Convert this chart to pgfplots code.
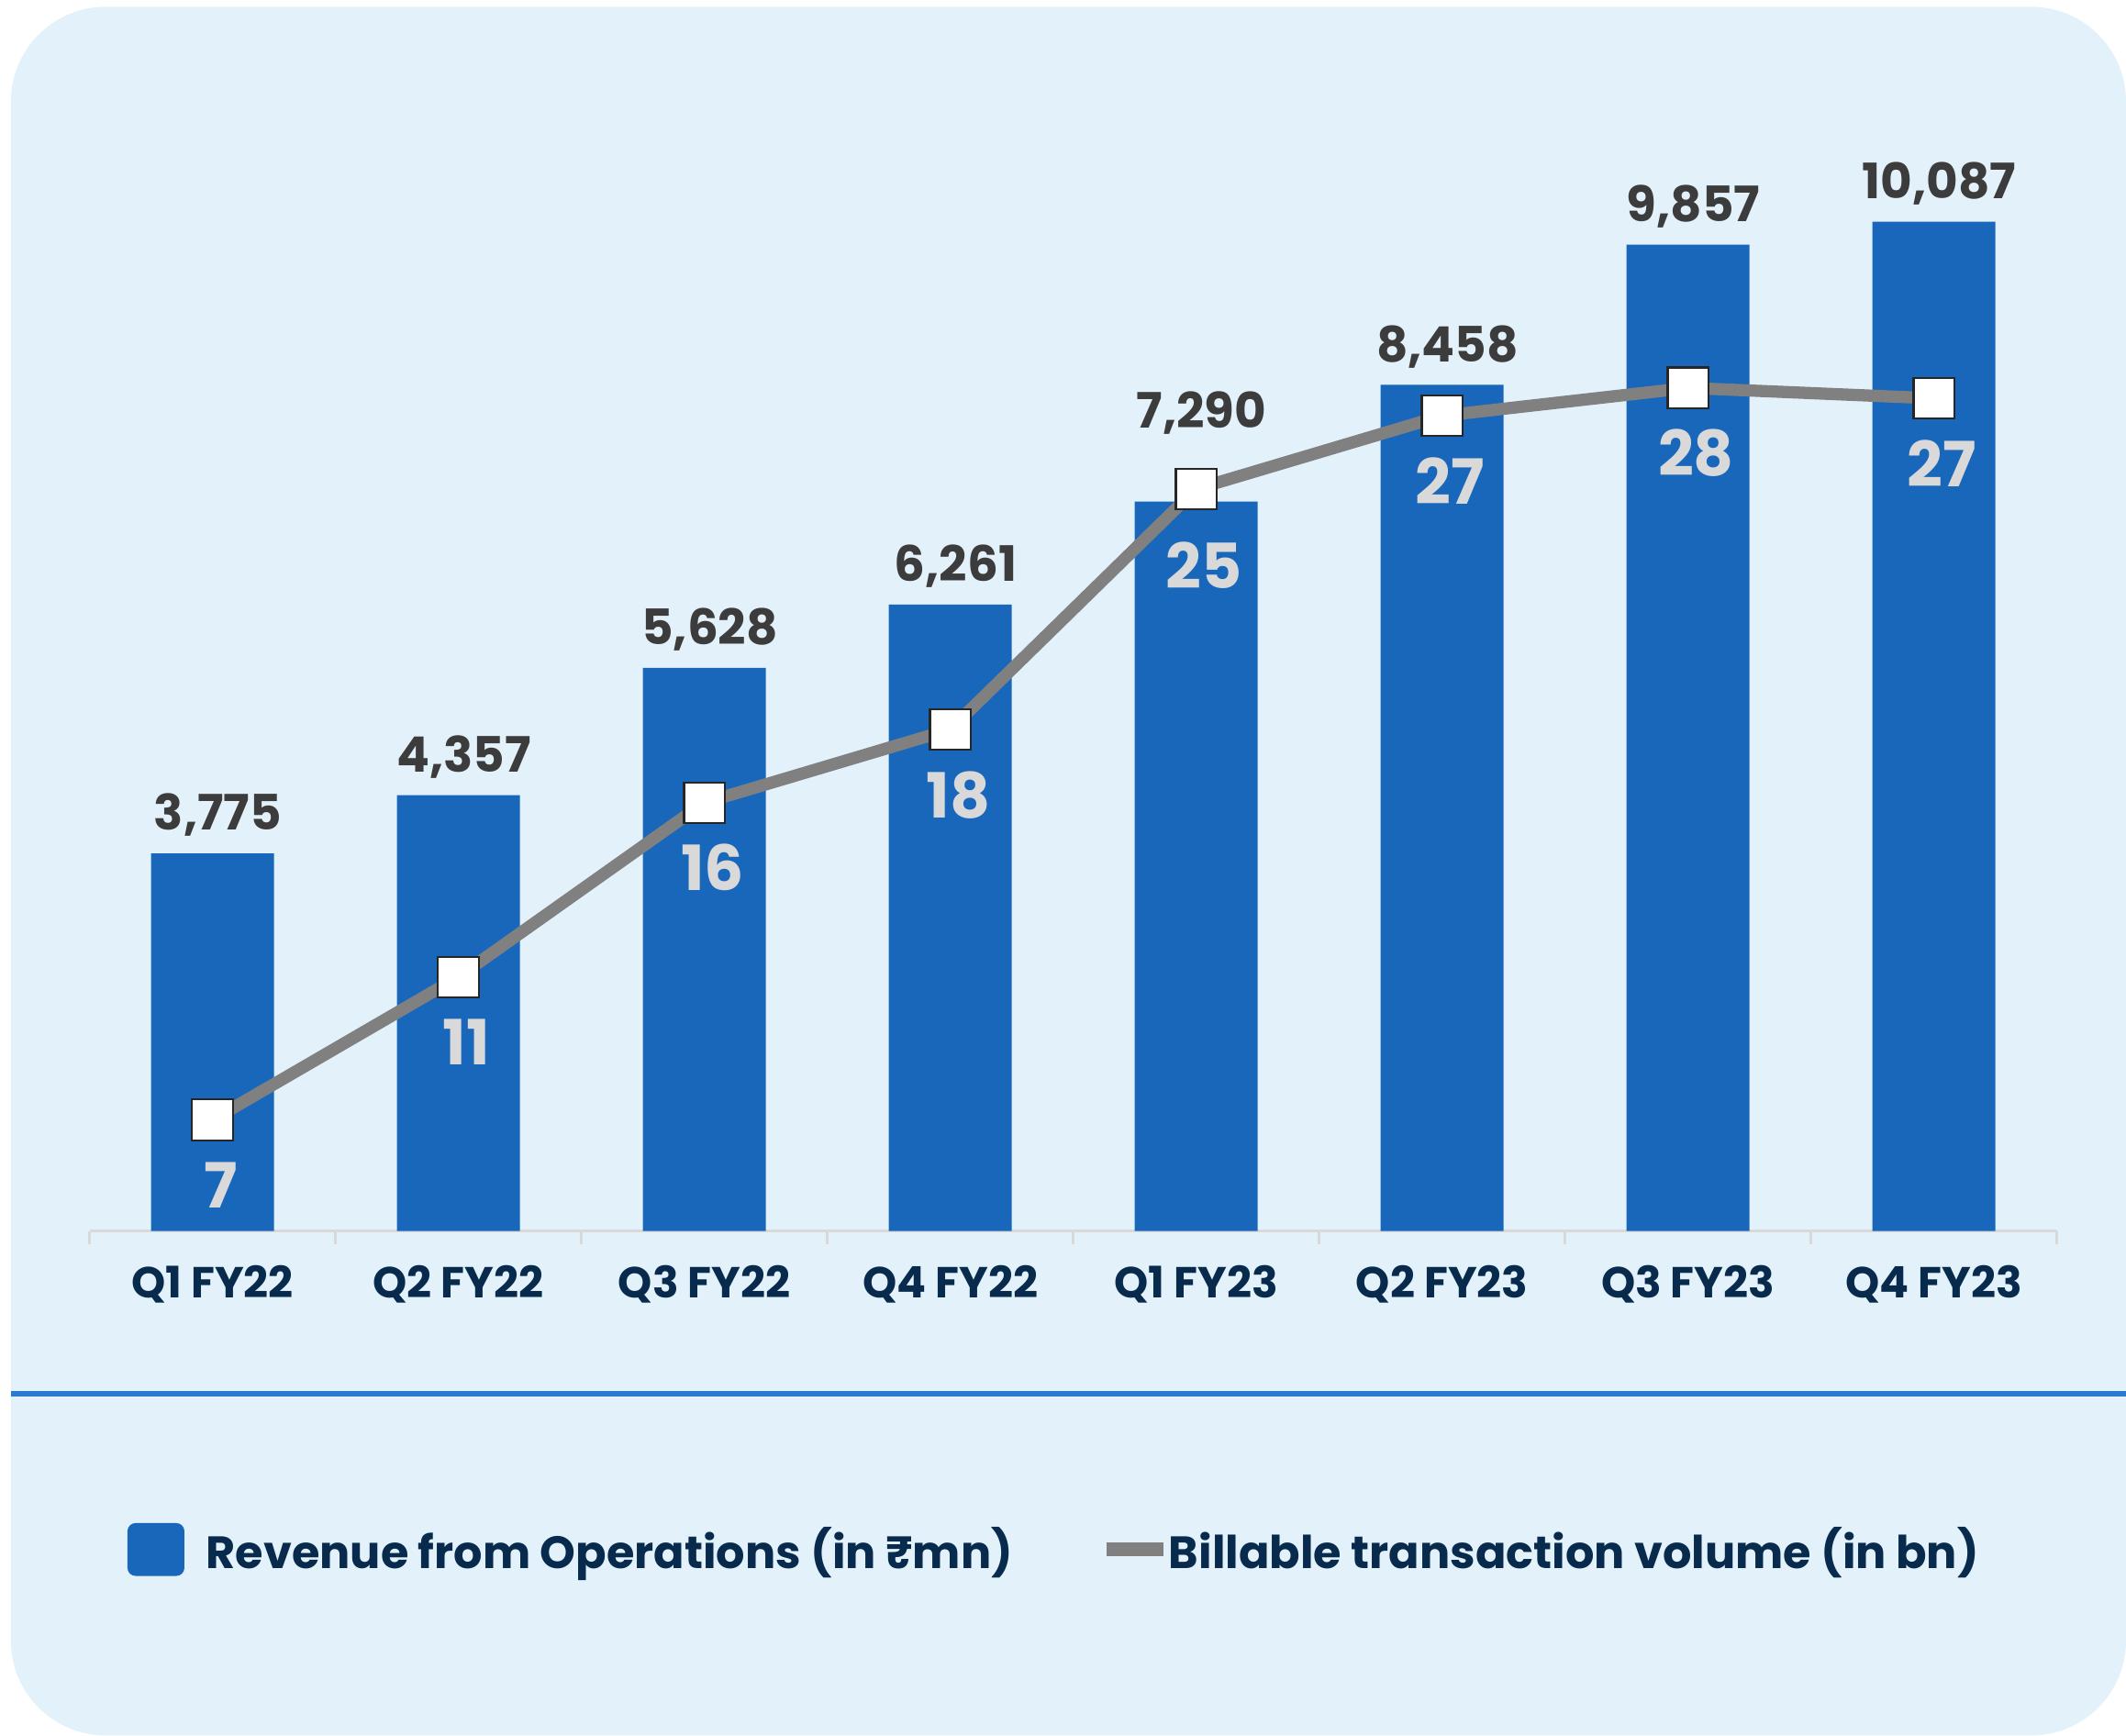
\documentclass[border=0pt]{standalone}
\usepackage{fontspec}
\setmainfont{Poppins}
\usepackage{pgfplots}
\usepackage{pgfplotstable}
\pgfplotsset{compat=1.18}
\definecolor{bgblue}{RGB}{227,242,250}
\definecolor{barblue}{RGB}{25,103,186}
\definecolor{rulecol}{RGB}{42,123,208}
\definecolor{linegray}{RGB}{128,128,128}
\definecolor{navy}{RGB}{7,42,77}
\definecolor{lbldark}{RGB}{60,60,60}
\definecolor{lbllight}{RGB}{217,217,217}
\definecolor{axisgray}{RGB}{217,217,217}

% revenue in Rs mn, billable volume in bn; rdy/vdy = label offsets
\pgfplotstableread{
x rev vol rdy vdy
0 3775 6.6 8.5 -32.5
1 4357 10.7 8.5 -32.5
2 5628 15.7 8.5 -32.5
3 6261 17.8 8.5 -32.5
4 7290 24.7 27.3 -36.8
5 8458 26.8 8.5 -32.5
6 9857 27.6 8.5 -32.5
7 10087 27.3 8.5 -32.5
}\datatable

\begin{document}
\begin{tikzpicture}[x=0.5pt,y=0.5pt]
\useasboundingbox (0,0) rectangle (1568,1280);
\fill[bgblue, rounded corners=35pt] (8,0) rectangle (1568,1275);
\draw[rulecol, line width=2pt] (8,252) -- (1568,252);

\begin{axis}[at={(33pt,186pt)}, anchor=south west, scale only axis,
  width=725.5pt, height=394pt,
  xmin=-0.5, xmax=7.5, ymin=0, ymax=10677,
  ybar, bar width=0.5,
  axis y line=none, axis x line*=bottom,
  axis line style={axisgray, line width=1pt},
  xtick={0,...,7},
  xticklabels={Q1 FY22,Q2 FY22,Q3 FY22,Q4 FY22,Q1 FY23,Q2 FY23,Q3 FY23,Q4 FY23},
  major tick length=0pt,
  minor xtick={-0.5,0.5,...,7.5},
  minor tick length=4.7pt, tick align=outside,
  every minor tick/.style={axisgray, line width=0.8pt},
  xticklabel style={font=\fontsize{16}{19}\selectfont\bfseries, text=navy, anchor=base, yshift=-24.5pt},
  ytick=\empty,
  clip=false,
  /pgf/number format/assume math mode=true,
  visualization depends on={\thisrow{rdy} \as \rdy},
  nodes near coords={\pgfmathprintnumber[fixed,precision=0,1000 sep={,}]{\pgfplotspointmeta}},
  nodes near coords style={font=\fontsize{18}{21}\selectfont\bfseries, text=lbldark, anchor=base, yshift=\rdy pt, xshift=2pt},
]
\addplot[fill=barblue, draw=none] table[x=x,y=rev]{\datatable};
\end{axis}

\begin{axis}[at={(33pt,186pt)}, anchor=south west, scale only axis,
  width=725.5pt, height=394pt,
  xmin=-0.5, xmax=7.5, ymin=3.41, ymax=34.06,
  axis lines=none, ticks=none, clip=false,
  /pgf/number format/assume math mode=true,
  legend style={at={(0.0193,-0.298)}, anchor=west, draw=none, fill=none,
    inner sep=0pt, outer sep=0pt, legend columns=2,
    font=\fontsize{16.7}{20}\selectfont\bfseries, text=navy,
    nodes={inner sep=0pt},
    /tikz/every odd column/.append style={column sep=-0.5pt},
    /tikz/every even column/.append style={column sep=32pt}},
]
\addlegendimage{legend image code/.code={
  \path[draw=none, fill=none] (0pt,0pt) -- (29.5pt,0pt);
  \fill[barblue, draw=none, rounded corners=3pt] (0pt,-9.75pt) rectangle (21pt,9.75pt);}}
\addlegendentry{Revenue from Operations (in ₹mn)}
\addlegendimage{legend image code/.code={
  \draw[linegray, line width=5pt] (0pt,0pt) -- (21pt,0pt);}}
\addlegendentry{Billable transaction volume (in bn)}
\addplot[linegray, line width=4.5pt, mark=square*, mark size=7.5pt,
  mark options={fill=white, draw=black!85, line width=0.75pt},
  visualization depends on={\thisrow{vdy} \as \vdy},
  nodes near coords={\pgfmathprintnumber[fixed,precision=0]{\pgfplotspointmeta}},
  nodes near coords style={font=\fontsize{23}{26}\selectfont\bfseries, text=lbllight, anchor=base, yshift=\vdy pt, xshift=3pt},
  forget plot] table[x=x,y=vol]{\datatable};
\end{axis}
\end{tikzpicture}
\end{document}
